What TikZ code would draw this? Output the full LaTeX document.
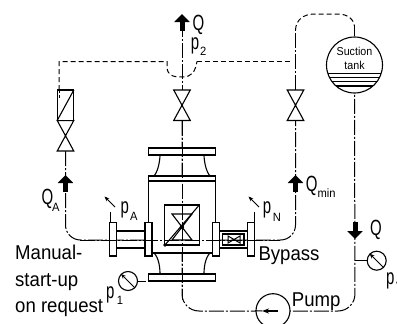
\documentclass[tikz,border=0pt]{standalone}
\usepackage{fontspec}
\setmainfont[FakeStretch=0.93]{Liberation Sans}
\newfontfamily\narrowfont[FakeStretch=0.68]{Liberation Sans}
\usetikzlibrary{arrows.meta}
\tikzset{
  pipe/.style={line width=1pt,dash pattern=on 15pt off 2pt on 2pt off 2pt},
  ctrl/.style={line width=1pt,dash pattern=on 5pt off 3pt},
  body/.style={line width=1.1pt,fill=white},
  lbl/.style={inner sep=0pt,anchor=base west,font=\fontsize{20}{20}\selectfont},
  sym/.style={inner sep=0pt,anchor=base west,font=\narrowfont\fontsize{22}{22}\selectfont},
  sub/.style={inner sep=0pt,anchor=base west,font=\fontsize{12}{12}\selectfont},
  gauge/.style={circle,draw,line width=1.1pt,fill=white,minimum size=19pt,inner sep=0pt},
  needle/.style={line width=1pt,-{Stealth[length=5pt,width=4pt]}}
}
\begin{document}
\begin{tikzpicture}[x=1pt,y=-1pt]
  \useasboundingbox (0,0) rectangle (397,324);
  % junctions
  \coordinate (qtop) at (182,30);
  \coordinate (v1) at (65.5,151);
  \coordinate (v2) at (182,120.5);
  \coordinate (v3) at (295.5,120.5);
  \coordinate (hl) at (65.5,240);
  \coordinate (hr) at (295.5,240);
  \coordinate (low) at (182,311);
  \coordinate (lowr) at (355,311);
  \node[circle,draw,line width=1.1pt,minimum size=56pt,inner sep=0pt] (tank) at (354.5,65) {};

  % pipes
  \draw[pipe,rounded corners=15pt] (v1) -- (hl) -- (hr) -- (v3);
  \draw[pipe] (v2) -- (qtop);
  \draw[pipe,rounded corners=17pt] (v2) -- (low) -- (lowr) -- (tank.south);
  \draw[pipe] (295.5,90) -- (295.5,30);
  % control lines
  \draw[ctrl] (59,90) -- (59,61.5) -- (167,61.5) -- (167,68) .. controls (168,75) and (172,77) .. (182,77) .. controls (192,77) and (195,72) .. (197,61.5);
  \draw[ctrl] (197,61.5) -- (291,61.5);
  \draw[ctrl] (295.5,30) .. controls (296,20) and (303,14) .. (315,14) -- (338,14) .. controls (348,14) and (354,20) .. (354.5,26);
  \draw[line width=1pt] (354.5,26) -- (tank.north);

  % tank
  \begin{scope}
    \clip (354.5,65) circle (28pt);
    \foreach \y in {73.5,77.5,81.5,86}
      \draw[line width=1.1pt] (320,\y) -- (390,\y);
  \end{scope}
  \node[inner sep=0pt,font=\fontsize{11.5}{11.5}\selectfont] (suction) at (354.5,51) {Suction};
  \node[inner sep=0pt,font=\fontsize{11.5}{11.5}\selectfont] (tanklbl) at (354.5,65.5) {tank};

  % valves
  \foreach \x in {182,295.5}
    \draw[line width=1.1pt,fill=white] (\x-8.3,90) -- (\x+8.3,90) -- (\x-8.3,120.5) -- (\x+8.3,120.5) -- cycle;
  \draw[body] (57.2,120.5) -- (73.8,120.5) -- (57.2,151) -- (73.8,151) -- cycle;
  \draw[body] (57.2,90) rectangle (73.8,120.5);
  \draw[line width=1.1pt] (57.2,120.5) -- (73.8,90);
  \draw[line width=1pt,dash pattern=on 3pt off 2pt] (59,90) -- (59,98);

  % main housing
  \draw[body] (148.3,181) -- (148.3,253) -- (215.7,253) -- (215.7,181);
  \draw[body] (148.3,148) rectangle (215.7,155);
  \draw[body] (148.3,176) rectangle (215.7,181);
  \draw[line width=1.1pt] (160,155) .. controls (160,158) and (159,170) .. (154,176);
  \draw[line width=1.1pt] (204,155) .. controls (204,158) and (205,170) .. (210,176);
  \draw[line width=1.1pt] (154,253) .. controls (159,258) and (160,268) .. (160,274);
  \draw[line width=1.1pt] (210,253) .. controls (205,258) and (204,268) .. (204,274);
  \draw[body] (148.3,274) rectangle (215.7,281);
  % suction and bypass stubs
  \draw[line width=1.1pt] (116.7,231) -- (145,231) (116.7,248) -- (145,248);
  \draw[line width=1.1pt] (219.3,231) -- (247.3,231) (219.3,248) -- (247.3,248);
  \foreach \x in {109.7,145,212.3,247.3}
    \draw[body] (\x,222.7) rectangle (\x+7,256);
  % inner valve
  \draw[line width=1.1pt] (164.5,205) rectangle (199.3,245);
  \draw[line width=1.1pt] (172,214) -- (192,214) -- (172,240) -- (192,240) -- cycle;
  \draw[line width=1.1pt] (165,245) -- (199.3,205);
  \fill (165,245) circle (1.8pt);
  \fill (182,227) circle (2.2pt);
  % bypass valve
  \draw[line width=1.1pt] (222.7,234) rectangle (244,245);
  \draw[line width=1pt] (228,236) -- (240,243) -- (240,236) -- (228,243) -- cycle;
  % center and flow lines over the housing
  \draw[pipe] (182,120.5) -- (182,300);
  \draw[pipe] (80,240) -- (280,240);

  % flow arrows
  \foreach \x/\a/\b in {182/31/14,65.5/192/175,295.5/192/175,355/222/239}
    \draw[line width=5pt,-{Triangle[length=8pt,width=15pt]}] (\x,\a) -- (\x,\b);

  % pressure taps
  \foreach \x in {110,254}{
    \draw[line width=1pt] (\x,212) -- (\x,222);
    \draw[needle] (\x+5,207) -- (\x-5.5,196.5);
  }
  \node[gauge] (gone) at (128,281) {};
  \node[gauge] (gv) at (376.7,260.7) {};
  \draw[line width=1pt] (gone) -- (146,281);
  \draw[line width=1pt] (355,260.7) -- (gv);
  \draw[needle] (gone.south east) -- (gone.north west);
  \draw[needle] (gv.south east) -- (gv.north west);

  % pump
  \node[circle,draw,line width=1.1pt,fill=white,minimum size=34pt,inner sep=0pt] (pump) at (273,310.7) {};
  \draw[line width=1.2pt,-{Stealth[length=7pt,width=5pt]}] (278,311) -- (262,311);
  \draw[line width=1pt] (pump.west) -- (262,311);

  % labels
  \node[sym] (qa) at (192.5,30.5) {Q};
  \node[sym] (ptwo) at (190.7,49) {p};
  \node[sub] at (200,56) {2};
  \node[sym] at (41.5,204) {Q};
  \node[sub] at (52,211) {A};
  \node[sym] at (120.5,213.5) {p};
  \node[sub] at (130,220.7) {A};
  \node[sym] at (262.7,213.5) {p};
  \node[sub] at (272.7,221) {N};
  \node[sym] at (305.7,191) {Q};
  \node[sub] at (317.3,197.3) {min};
  \node[sym] at (370,235) {Q};
  \node[lbl] at (258.3,260) {Bypass};
  \node[lbl] at (291.7,306.7) {Pump};
  \node[lbl] at (15,259) {Manual-};
  \node[lbl] at (15,286) {start-up};
  \node[lbl] at (15,312) {on request};
  \node[sym] at (106,298) {p};
  \node[sub] at (116.7,304.3) {1};
  \node[sym] at (386,284.5) {p};
  \node[sub] at (396,290) {V};
\end{tikzpicture}
\end{document}
